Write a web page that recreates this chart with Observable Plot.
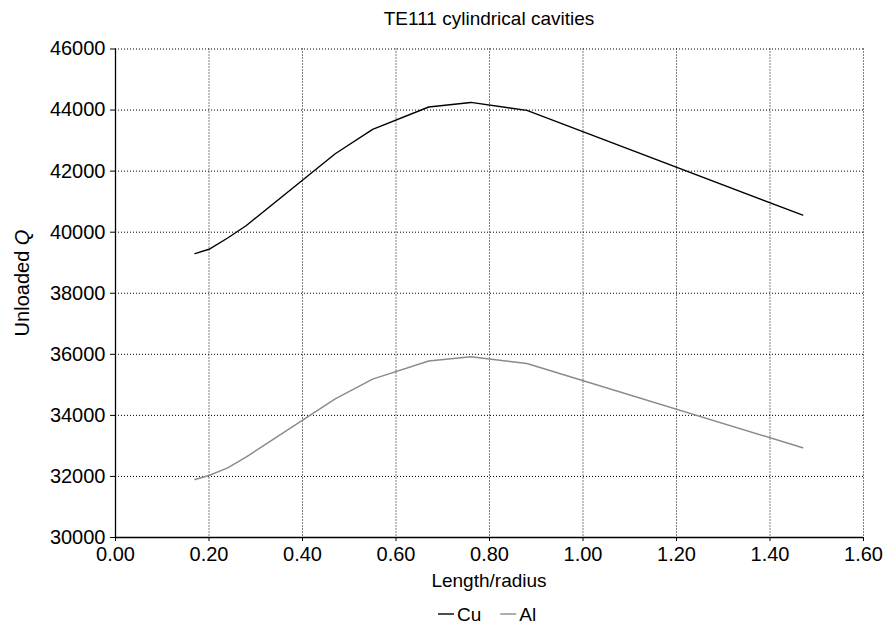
<!DOCTYPE html>
<html>
<head>
<meta charset="utf-8">
<script src="https://cdn.jsdelivr.net/npm/d3@7"></script>
<script src="https://cdn.jsdelivr.net/npm/@observablehq/plot@0.6"></script>
<style>
  html, body { margin: 0; padding: 0; background: #fff; }
  #chart { width: 887px; height: 636px; }
</style>
</head>
<body>
<div id="chart"></div>
<script>
// Data
const ratio = [0.17, 0.20, 0.24, 0.28, 0.47, 0.55, 0.67, 0.76, 0.88, 1.47];
const cuQ = [39300, 39440, 39810, 40220, 42570, 43370, 44100, 44250, 43990, 40560];
const alQ = [31900, 32030, 32280, 32640, 34540, 35190, 35780, 35920, 35700, 32940];
const seriesNames = ["Cu", "Al"];
const seriesColors = ["#000000", "#8a8a8a"];
const xTicks = [0, 0.2, 0.4, 0.6, 0.8, 1.0, 1.2, 1.4, 1.6];
const yTicks = [30000, 32000, 34000, 36000, 38000, 40000, 42000, 44000, 46000];
const titleText = "TE111 cylindrical cavities";
const xLabel = "Length/radius";

const rows = [];
ratio.forEach((r, i) => {
  rows.push({series: "Cu", x: r, y: cuQ[i]});
  rows.push({series: "Al", x: r, y: alQ[i]});
});

const W = 887, H = 636;
const mTop = 48.5, mRight = 24, mBottom = 99, mLeft = 115;
const font = "'Liberation Sans', Arial, Helvetica, sans-serif";
const fs = "19px";

const chart = Plot.plot({
  width: W,
  height: H,
  marginTop: mTop,
  marginRight: mRight,
  marginBottom: mBottom,
  marginLeft: mLeft,
  style: {fontFamily: font, fontSize: "20px", color: "#000", background: "#fff"},
  x: {domain: [0, 1.6]},
  y: {domain: [30000, 46000]},
  color: {domain: seriesNames, range: seriesColors},
  marks: [
    Plot.gridX(xTicks, {stroke: "#000", strokeOpacity: 1, strokeDasharray: "1,2", strokeWidth: 1}),
    Plot.gridY(yTicks, {stroke: "#000", strokeOpacity: 1, strokeDasharray: "1,2", strokeWidth: 1}),
    Plot.axisX(xTicks, {tickFormat: d3.format(".2f"), tickSize: 4, tickPadding: 5, label: null, fontSize: 20}),
    Plot.axisY(yTicks, {tickFormat: d3.format("d"), tickSize: 5, tickPadding: 5, label: null, fontSize: 20}),
    Plot.ruleX([0], {stroke: "#000", strokeWidth: 1.3}),
    Plot.ruleY([30000], {stroke: "#000", strokeWidth: 1.3}),
    Plot.line(rows, {x: "x", y: "y", z: "series", stroke: "series", strokeWidth: 1.4})
  ]
});

document.getElementById("chart").appendChild(chart);

const svg = d3.select(chart);
const cx = mLeft + (W - mLeft - mRight) / 2;

svg.append("text")
  .attr("x", cx).attr("y", 25)
  .attr("text-anchor", "middle")
  .style("font-family", font).style("font-size", fs)
  .text(titleText);

svg.append("text")
  .attr("x", cx).attr("y", 587)
  .attr("text-anchor", "middle")
  .style("font-family", font).style("font-size", fs)
  .text(xLabel);

const yl = svg.append("text")
  .attr("transform", "translate(29,283) rotate(-90)")
  .attr("text-anchor", "middle")
  .style("font-family", font).style("font-size", "20px");
yl.append("tspan").text("Unloaded ");
yl.append("tspan").style("font-style", "italic").text("Q");

// legend
const lg = svg.append("g").style("font-family", font).style("font-size", fs);
let lx = 438;
seriesNames.forEach((name, i) => {
  lg.append("line")
    .attr("x1", lx).attr("x2", lx + 16)
    .attr("y1", 614).attr("y2", 614)
    .attr("stroke", seriesColors[i]).attr("stroke-width", 1.4);
  const t = lg.append("text")
    .attr("x", lx + 19).attr("y", 621)
    .attr("text-anchor", "start")
    .text(name);
  lx += 19 + t.node().getComputedTextLength() + 19;
});
</script>
</body>
</html>
